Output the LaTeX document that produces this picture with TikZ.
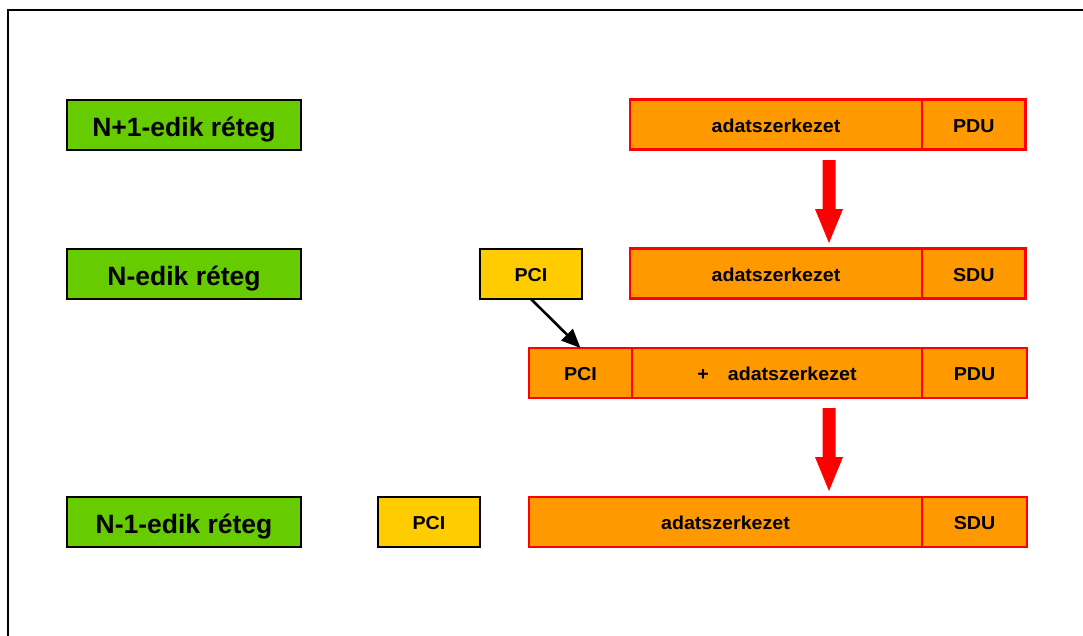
\documentclass[tikz,border=0pt]{standalone}
\usepackage{fontspec}
\setmainfont{Liberation Sans}
\newfontface\cellfont{Liberation Sans Bold}[FakeStretch=1.05]
\usetikzlibrary{arrows.meta}
\definecolor{layergreen}{HTML}{66CC00}
\definecolor{cellorange}{HTML}{FF9900}
\definecolor{pciyellow}{HTML}{FFCC00}
\definecolor{cellred}{HTML}{FF0000}
\tikzset{
  layerbox/.style={rectangle, draw=black, line width=1.4pt, fill=layergreen,
    inner sep=0pt, outer sep=0pt, anchor=north west, minimum width=234pt,
    minimum height=50pt, text height=23pt, text depth=0pt,
    font=\fontsize{26.5}{30}\selectfont\bfseries},
  cell/.style={rectangle, draw=cellred, line width=2.6pt, fill=cellorange,
    inner sep=0pt, outer sep=0pt, anchor=north west, minimum height=50pt,
    text height=15.5pt, text depth=0pt,
    font=\fontsize{18.7}{22}\cellfont},
  pcibox/.style={rectangle, draw=black, line width=1.4pt, fill=pciyellow,
    inner sep=0pt, outer sep=0pt, anchor=north west, minimum width=102pt,
    minimum height=50pt, text height=15.5pt, text depth=0pt,
    font=\fontsize{18.7}{22}\cellfont},
  bigarrow/.style={fill=cellred, draw=none},
  pciarrow/.style={draw=black, line width=2.6pt,
    -{Triangle[length=19pt,width=16pt]}}
}
\begin{document}
\begin{tikzpicture}[x=1pt,y=-1pt]
\useasboundingbox (0,0) rectangle (1083,635);
\clip (0,0) rectangle (1083,635);
\fill[white] (0,0) rectangle (1083,635);

% outer frame (only its left and top edges fall inside the page)
\draw[black, line width=2pt] (8,9.5) rectangle (1120,680);

% layer labels
\node[layerbox] (l1) at (67,100) {N+1-edik réteg};
\node[layerbox] (l2) at (67,249) {N-edik réteg};
\node[layerbox] (l3) at (67,497) {N-1-edik réteg};

% N+1 layer: PDU
\node[cell, minimum width=292pt] (d1) at (630,99.5) {adatszerkezet};
\node[cell, minimum width=103.5pt] (u1) at (922,99.5) {PDU};

% N layer: SDU
\node[cell, minimum width=292pt] (d2) at (630,248.5) {adatszerkezet};
\node[cell, minimum width=103.5pt] (u2) at (922,248.5) {SDU};
\node[pcibox] (p1) at (480,249) {PCI};

% N layer: PCI + data = PDU
\node[cell, minimum width=103pt] (c3) at (529,348) {PCI};
\node[cell, minimum width=290pt] (d3) at (632,348) {+\hspace{19pt}adatszerkezet};
\node[cell, minimum width=105pt] (u3) at (922,348) {PDU};

% N-1 layer: SDU
\node[pcibox] (p2) at (378,497) {PCI};
\node[cell, minimum width=393pt] (d4) at (529,497) {adatszerkezet};
\node[cell, minimum width=105pt] (u4) at (922,497) {SDU};

% PCI is attached in front of the data
\draw[pciarrow] (p1.south) -- (c3.north);

% thick red arrows between layers
\coordinate (a1) at (829,160);
\coordinate (a2) at (829,408);
\foreach \a in {a1,a2}{
  \fill[bigarrow] ([xshift=-6.5pt]\a) -- ([xshift=6.5pt]\a)
    -- ([xshift=6.5pt,yshift=-49pt]\a) -- ([xshift=14pt,yshift=-49pt]\a)
    -- ([yshift=-83pt]\a) -- ([xshift=-14pt,yshift=-49pt]\a)
    -- ([xshift=-6.5pt,yshift=-49pt]\a) -- cycle;
}
\end{tikzpicture}
\end{document}
